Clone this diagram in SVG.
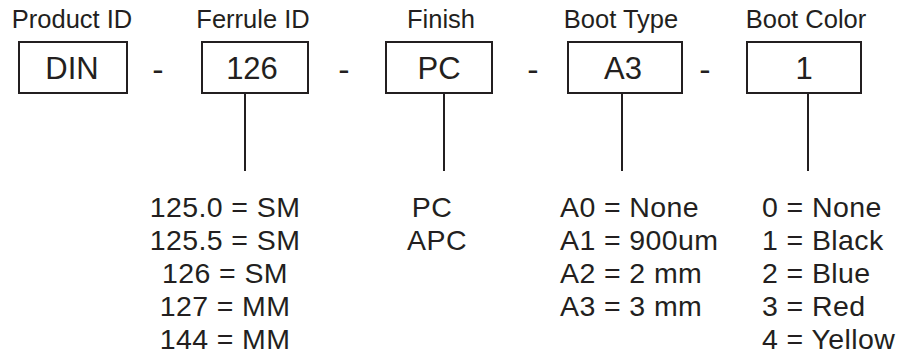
<svg xmlns="http://www.w3.org/2000/svg" width="907" height="358" viewBox="0 0 907 358">
<style>
text{font-family:"Liberation Sans",Arial,sans-serif;fill:#231f20}
.h{font-size:25.5px;text-anchor:middle}
.b{font-size:31px;text-anchor:middle}
.d{font-size:34px;text-anchor:middle}
.l{font-size:28.5px;letter-spacing:0.4px}
.c{text-anchor:middle}
.box{fill:#fff;stroke:#231f20;stroke-width:2}
line{stroke:#231f20;stroke-width:2}
</style>
<rect width="907" height="358" fill="#fff"/>
<g id="product">
<text class="h" x="72" y="28">Product ID</text>
<rect class="box" x="19" y="42" width="108" height="51"/>
<text class="b" x="72" y="79">DIN</text>
</g>
<g id="ferrule">
<text class="h" x="253" y="28">Ferrule ID</text>
<rect class="box" x="202" y="42" width="106" height="51"/>
<text class="b" x="252" y="79">126</text>
<text class="l c" x="225" y="217">125.0 = SM</text>
<text class="l c" x="225" y="250">125.5 = SM</text>
<text class="l c" x="225" y="283">126 = SM</text>
<text class="l c" x="225" y="316">127 = MM</text>
<text class="l c" x="225" y="349">144 = MM</text>
</g>
<g id="finish">
<text class="h" x="441" y="28">Finish</text>
<rect class="box" x="386" y="42" width="106" height="51"/>
<text class="b" x="439" y="79">PC</text>
<text class="l c" x="432" y="217">PC</text>
<text class="l c" x="437" y="250">APC</text>
</g>
<g id="boottype">
<text class="h" x="621" y="28">Boot Type</text>
<rect class="box" x="568" y="42" width="114" height="51"/>
<text class="b" x="623" y="79">A3</text>
<text class="l" x="560" y="217">A0 = None</text>
<text class="l" x="560" y="250">A1 = 900um</text>
<text class="l" x="560" y="283">A2 = 2 mm</text>
<text class="l" x="560" y="316">A3 = 3 mm</text>
</g>
<g id="bootcolor">
<text class="h" x="806" y="28">Boot Color</text>
<rect class="box" x="747" y="42" width="114" height="51"/>
<text class="b" x="804" y="79">1</text>
<text class="l" x="762" y="217">0 = None</text>
<text class="l" x="762" y="250">1 = Black</text>
<text class="l" x="762" y="283">2 = Blue</text>
<text class="l" x="762" y="316">3 = Red</text>
<text class="l" x="762" y="349">4 = Yellow</text>
</g>
<g id="separators">
<text class="d" x="158" y="81">-</text>
<text class="d" x="344" y="81">-</text>
<text class="d" x="533" y="81">-</text>
<text class="d" x="705" y="81">-</text>
</g>
<g id="connectors">
<line x1="245" y1="93" x2="245" y2="171"/>
<line x1="444" y1="93" x2="444" y2="171"/>
<line x1="622" y1="93" x2="622" y2="171"/>
<line x1="808" y1="93" x2="808" y2="171"/>
</g>
</svg>
